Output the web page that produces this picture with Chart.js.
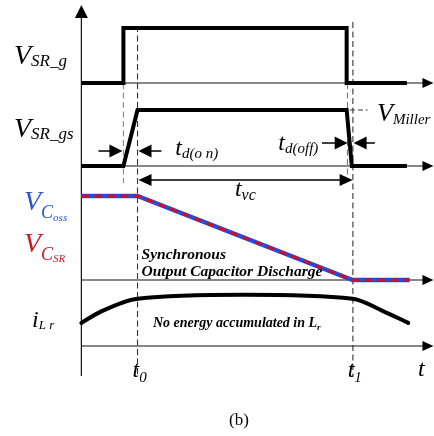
<!DOCTYPE html>
<html>
<head>
<meta charset="utf-8">
<script src="https://cdn.jsdelivr.net/npm/chart.js@4.4.0/dist/chart.umd.min.js"></script>
<style>
  html, body { margin: 0; padding: 0; background: #fff; }
  canvas { display: block; }
</style>
</head>
<body>
<canvas id="timing" width="434" height="436"></canvas>
<script>
// time marks (arbitrary units, 0 = axis origin)
const t_on = 1.55;    // gate command goes high
const t0 = 2.07;
const t_off = 9.78;   // gate command goes low
const t1 = 10.0;
const t_end = 12.0;

// each trace normalised to its own swing (0 = low, 1 = high)
const gate_t = [0, t_on, t_on, t_off, t_off, t_end];
const gate_v = [0, 0, 1, 1, 0, 0];

const gs_t = [0, t_on, t0, t_off, 9.97, t_end];
const gs_v = [0, 0, 1, 1, 0, 0];

const vc_t = [0, t0, t1, 12.1];
const vc_v = [1, 1, 0, 0];

const ilr_t = [0, 0.7, t0, 6.0, t1, 11.1, 12.05];
const ilr_v = [0.42, 0.62, 0.86, 0.93, 0.86, 0.64, 0.42];

// row placement on the y scale (scale runs 0 at top .. 436 at bottom)
const rows = {
  gate: { base: 83, swing: 55 },
  gs:   { base: 166, swing: 56 },
  vc:   { base: 280, swing: 84 },
  ilr:  { base: 346, swing: 55 }
};

function trace(ts, vs, row) {
  return ts.map((t, i) => ({ x: t, y: row.base - vs[i] * row.swing }));
}

const serif = '"Liberation Serif", "Times New Roman", serif';

function arrowHead(ctx, x, y, dir, len, half) {
  // dir: 'r','l','u'
  ctx.beginPath();
  if (dir === 'r') { ctx.moveTo(x, y); ctx.lineTo(x - len, y - half); ctx.lineTo(x - len, y + half); }
  if (dir === 'l') { ctx.moveTo(x, y); ctx.lineTo(x + len, y - half); ctx.lineTo(x + len, y + half); }
  if (dir === 'u') { ctx.moveTo(x, y); ctx.lineTo(x - half, y + len); ctx.lineTo(x + half, y + len); }
  ctx.closePath();
  ctx.fill();
}

function label(ctx, x, y, main, mainPx, parts, color) {
  ctx.fillStyle = color || '#000';
  ctx.font = 'italic ' + mainPx + 'px ' + serif;
  ctx.fillText(main, x, y);
  let cx = x + ctx.measureText(main).width;
  parts.forEach(p => {
    ctx.font = 'italic ' + p.px + 'px ' + serif;
    ctx.fillText(p.s, cx + (p.dx || 0), y + p.dy);
    cx += ctx.measureText(p.s).width + (p.dx || 0);
  });
}

const decor = {
  id: 'decor',
  beforeDatasetsDraw(chart) {
    const ctx = chart.ctx;
    const X = v => chart.scales.x.getPixelForValue(v);
    const Y = v => chart.scales.y.getPixelForValue(v);
    ctx.save();
    ctx.strokeStyle = '#111';
    ctx.fillStyle = '#000';
    ctx.lineWidth = 1.2;

    // vertical axis
    ctx.beginPath();
    ctx.moveTo(X(0), Y(376));
    ctx.lineTo(X(0), Y(12));
    ctx.stroke();
    arrowHead(ctx, X(0), Y(5), 'u', 13, 6.5);

    // baselines with arrows
    Object.values(rows).forEach(r => {
      ctx.beginPath();
      ctx.moveTo(X(0), Y(r.base));
      ctx.lineTo(X(12.6), Y(r.base));
      ctx.stroke();
      arrowHead(ctx, X(12.98), Y(r.base), 'r', 11, 5);
    });

    // dashed guides
    const guides = [
      { t: t_on, from: 83, to: 183, c: '#8a8a8a' },
      { t: t0, from: 26, to: 377, c: '#333' },
      { t: t_off + 0.03, from: 83, to: 176, c: '#777' },
      { t: t1 + 0.01, from: 22, to: 377, c: '#333' }
    ];
    ctx.lineWidth = 1.1;
    ctx.setLineDash([6, 3.5]);
    guides.forEach(g => {
      ctx.strokeStyle = g.c;
      ctx.beginPath();
      ctx.moveTo(X(g.t), Y(g.from));
      ctx.lineTo(X(g.t), Y(g.to));
      ctx.stroke();
    });
    // Miller level
    ctx.strokeStyle = '#333';
    ctx.setLineDash([5, 3]);
    ctx.beginPath();
    ctx.moveTo(X(9.9), Y(110));
    ctx.lineTo(X(10.55), Y(110));
    ctx.stroke();
    ctx.restore();
  },
  afterDatasetsDraw(chart) {
    const ctx = chart.ctx;
    const X = v => chart.scales.x.getPixelForValue(v);
    const Y = v => chart.scales.y.getPixelForValue(v);
    ctx.save();
    ctx.strokeStyle = '#000';
    ctx.fillStyle = '#000';
    ctx.lineWidth = 1.5;

    // t_d(on) arrows
    ctx.beginPath();
    ctx.moveTo(X(0.63), Y(151)); ctx.lineTo(X(t_on) - 10, Y(151));
    ctx.moveTo(X(t0) + 10, Y(151)); ctx.lineTo(X(2.95), Y(151));
    ctx.stroke();
    arrowHead(ctx, X(t_on) - 1, Y(151), 'r', 13, 6.5);
    arrowHead(ctx, X(t0) + 1, Y(151), 'l', 13, 6.5);

    // t_d(off) arrows
    ctx.beginPath();
    ctx.moveTo(X(8.87), Y(143)); ctx.lineTo(X(t_off) - 10, Y(143));
    ctx.moveTo(X(t1) + 10, Y(143)); ctx.lineTo(X(10.82), Y(143));
    ctx.stroke();
    arrowHead(ctx, X(t_off) + 1, Y(143), 'r', 13, 6.5);
    arrowHead(ctx, X(t1) + 1, Y(143), 'l', 13, 6.5);

    // t_vc span
    ctx.beginPath();
    ctx.moveTo(X(t0) + 10, Y(180)); ctx.lineTo(X(t1) - 10, Y(180));
    ctx.stroke();
    arrowHead(ctx, X(t0) + 1, Y(180), 'l', 13, 6);
    arrowHead(ctx, X(t1), Y(180), 'r', 13, 6);

    // trace names
    label(ctx, 14, 64, 'V', 28, [{ s: 'SR_g', px: 17, dy: 2 }]);
    label(ctx, 14, 137, 'V', 28, [{ s: 'SR_gs', px: 17, dy: 2 }]);
    label(ctx, 24, 210, 'V', 28, [{ s: 'C', px: 18, dy: 8 }, { s: 'oss', px: 11, dy: 11 }], '#2b54d6');
    label(ctx, 24, 252, 'V', 28, [{ s: 'C', px: 18, dy: 8 }, { s: 'SR', px: 11, dy: 10 }], '#c41a24');
    label(ctx, 32, 327, 'i', 24, [{ s: 'L r', px: 13, dy: 2 }]);

    // time marks
    label(ctx, X(t0) - 5, 377, 't', 24, [{ s: '0', px: 15, dy: 5 }]);
    label(ctx, X(t1) - 5, 377, 't', 24, [{ s: '1', px: 15, dy: 5 }]);
    label(ctx, 418, 376, 't', 24, []);

    label(ctx, X(3.46), 155, 't', 24, [{ s: 'd(o n)', px: 15, dy: 3 }]);
    label(ctx, X(7.26), 150, 't', 24, [{ s: 'd(off)', px: 15, dy: 3 }]);
    label(ctx, X(5.66), 196, 't', 24, [{ s: 'vc', px: 16, dy: 4 }]);
    label(ctx, 377, 121, 'V', 26, [{ s: 'Miller', px: 15, dy: 3 }]);

    // annotations
    ctx.fillStyle = '#000';
    ctx.font = 'italic bold 15.5px ' + serif;
    ctx.fillText('Synchronous', X(t0) + 4, 259);
    ctx.fillText('Output Capacitor Discharge', X(t0) + 4, 276);
    ctx.font = 'italic bold 14px ' + serif;
    ctx.fillText('No energy accumulated in L', 153, 327);
    let w = ctx.measureText('No energy accumulated in L').width;
    ctx.font = 'italic bold 9px ' + serif;
    ctx.fillText('r', 153 + w, 330);

    ctx.font = '17px ' + serif;
    ctx.textAlign = 'center';
    ctx.fillText('(b)', 239, 425);
    ctx.restore();
  }
};

const line = (data, color, width, extra) => Object.assign({
  data: data,
  borderColor: color,
  borderWidth: width,
  pointRadius: 0,
  fill: false,
  tension: 0,
  borderJoinStyle: 'miter',
  borderCapStyle: 'butt'
}, extra || {});

new Chart(document.getElementById('timing').getContext('2d'), {
  type: 'line',
  data: {
    datasets: [
      line(trace(gate_t, gate_v, rows.gate), '#000', 4),
      line(trace(gs_t, gs_v, rows.gs), '#000', 4),
      // red dash is drawn on top of the blue line (lower order = drawn last)
      line(trace(vc_t, vc_v, rows.vc), '#c8102e', 3, { borderDash: [8, 5], order: 1 }),
      line(trace(vc_t, vc_v, rows.vc), '#1f4fe0', 4.5, { order: 2 }),
      line(trace(ilr_t, ilr_v, rows.ilr), '#000', 4, { cubicInterpolationMode: 'monotone', borderCapStyle: 'round' })
    ]
  },
  options: {
    responsive: false,
    animation: false,
    events: [],
    layout: { padding: 0 },
    plugins: { legend: { display: false }, tooltip: { enabled: false } },
    scales: {
      x: { type: 'linear', min: -3, max: 13, display: false },
      y: { type: 'linear', min: 0, max: 436, reverse: true, display: false }
    }
  },
  plugins: [decor]
});
</script>
</body>
</html>
